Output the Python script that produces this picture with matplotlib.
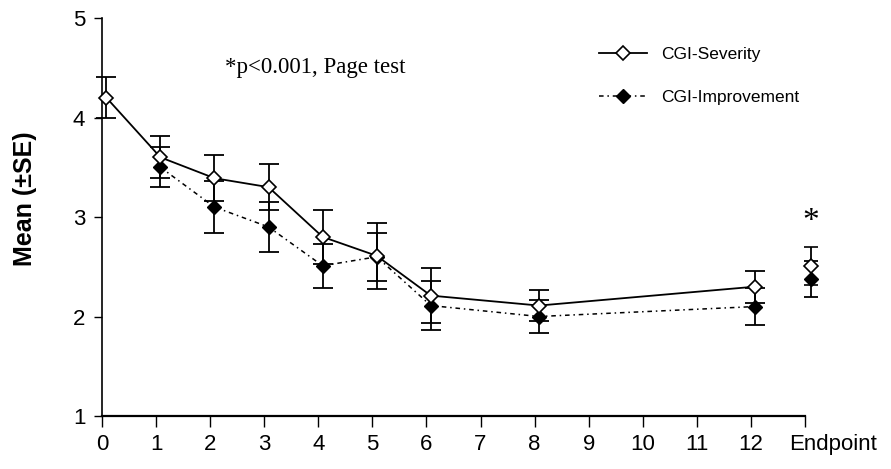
import numpy as np
import matplotlib
matplotlib.use("Agg")
import matplotlib.pyplot as plt
import matplotlib.transforms as mtransforms

# weeks (13 = endpoint)
sev_x = [0, 1, 2, 3, 4, 5, 6, 8, 12]
sev_y = [4.20, 3.60, 3.39, 3.30, 2.80, 2.61, 2.21, 2.11, 2.30]
sev_se = [0.21, 0.21, 0.23, 0.23, 0.27, 0.33, 0.28, 0.16, 0.16]

imp_x = [1, 2, 3, 4, 5, 6, 8, 12]
imp_y = [3.50, 3.10, 2.90, 2.51, 2.60, 2.11, 2.00, 2.10]
imp_se = [0.20, 0.26, 0.25, 0.22, 0.24, 0.25, 0.17, 0.19]

end_x = 13
end_sev, end_sev_se = 2.51, 0.19
end_imp, end_imp_se = 2.38, 0.18

xtick_pos = list(range(14))
xtick_labels = [str(i) for i in range(13)] + ["Endpoint"]
ytick_pos = [1, 2, 3, 4, 5]

shift = 0.08  # markers sit slightly right of the ticks

plt.rcParams['font.family'] = ['Liberation Sans', 'DejaVu Sans']

fig = plt.figure(figsize=(8.91, 4.69), dpi=100)
ax = fig.add_axes([102/891, 1-416/469, (805-102)/891, (416-18)/469])

sx = np.array(sev_x) + shift
ix = np.array(imp_x) + shift

# improvement first, so the open diamonds sit on top
ax.errorbar(ix, imp_y, yerr=imp_se, fmt='none', ecolor='black', elinewidth=1.3,
            capsize=7, capthick=1.3, clip_on=False, zorder=2)
ax.plot(ix, imp_y, color='black', lw=1.1, ls=(0, (3, 2.5, 1, 2.5)),
        marker='D', ms=7, mfc='black', mec='black', clip_on=False, zorder=3,
        label='CGI-Improvement')

ax.errorbar(sx, sev_y, yerr=sev_se, fmt='none', ecolor='black', elinewidth=1.3,
            capsize=7, capthick=1.3, clip_on=False, zorder=2)
ax.plot(sx, sev_y, color='black', lw=1.3, ls='-',
        marker='D', ms=7, mfc='white', mec='black', mew=1.2, clip_on=False,
        zorder=4, label='CGI-Severity')

# endpoint
ex = end_x + 0.11
ax.errorbar([ex], [end_imp], yerr=[end_imp_se], fmt='D', ms=7, mfc='black',
            mec='black', ecolor='black', elinewidth=1.3, capsize=5, capthick=1.3,
            clip_on=False, zorder=3)
ax.errorbar([ex], [end_sev], yerr=[end_sev_se], fmt='D', ms=7, mfc='white',
            mec='black', mew=1.2, ecolor='black', elinewidth=1.3, capsize=5,
            capthick=1.3, clip_on=False, zorder=4)
ax.text(ex, 2.95, '*', fontsize=24, family='Liberation Serif', ha='center',
        va='center')

ax.text(225/891, 1-68/469, '*p<0.001, Page test', transform=fig.transFigure,
        fontsize=16.5, family='Liberation Serif', ha='left', va='center')

ax.set_xlim(0, 13)
ax.set_ylim(1, 5)
ax.set_xticks(xtick_pos)
ax.set_xticklabels(xtick_labels, fontsize=16)
ax.set_yticks(ytick_pos)
ax.set_yticklabels([str(v) for v in ytick_pos], fontsize=16)
ax.tick_params(axis='x', direction='out', length=8, width=1, pad=5)
ax.tick_params(axis='y', direction='out', length=6, width=1, pad=6)

lbl = ax.get_xticklabels()[-1]
lbl.set_fontsize(16)
off = mtransforms.ScaledTranslation(28/100, 0, fig.dpi_scale_trans)
lbl.set_transform(lbl.get_transform() + off)

for s in ['top', 'right']:
    ax.spines[s].set_visible(False)
ax.spines['left'].set_linewidth(1.2)
ax.spines['bottom'].set_linewidth(1.6)

ax.set_ylabel('Mean (\u00b1SE)', fontsize=18, fontweight='bold')
ax.yaxis.set_label_coords(-0.093, 0.545)

h, l = ax.get_legend_handles_labels()
ax.legend(h[::-1], l[::-1], loc='upper left', frameon=False, fontsize=12.5,
          handlelength=2.8, handletextpad=0.8, labelspacing=1.6, borderpad=0,
          bbox_to_anchor=(590/891, 1-38/469), bbox_transform=fig.transFigure)

fig.savefig('out.png', dpi=100)
